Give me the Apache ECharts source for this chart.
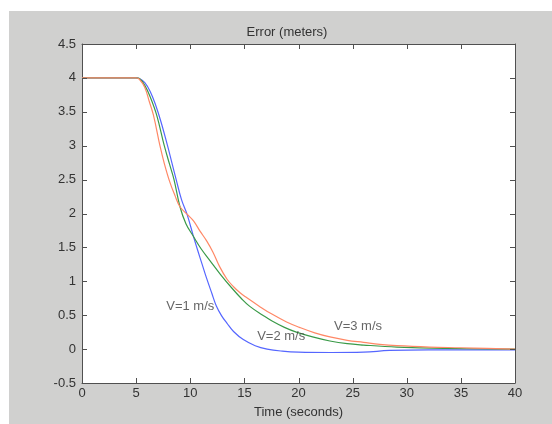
<!DOCTYPE html>
<html><head><meta charset="utf-8">
<script src="https://cdn.jsdelivr.net/npm/echarts@6/dist/echarts.min.js"></script>
<style>html,body{margin:0;padding:0;background:#fff}#c{width:552px;height:424px}</style>
</head><body><div id="c"></div>
<script>
var xTicks = [0,5,10,15,20,25,30,35,40];
var yTicks = [-0.5,0,0.5,1,1.5,2,2.5,3,3.5,4,4.5];
var v1 = [[0,4],[5,4],[5.3,3.99],[5.8,3.93],[6.3,3.8],[6.8,3.6],[7.3,3.35],[7.9,3.0],[8.3,2.75],[8.7,2.5],[9.2,2.2],[9.7,1.99],[10.3,1.66],[10.7,1.45],[11.1,1.25],[11.5,1.05],[12.0,0.82],[12.4,0.64],[12.9,0.49],[13.4,0.38],[14.0,0.26],[14.9,0.14],[16.0,0.05],[17.1,0.0],[18.5,-0.03],[20,-0.045],[23,-0.05],[26,-0.045],[28.4,-0.02],[32,-0.01],[40,-0.01]];
var v2 = [[0,4],[5,4],[5.3,3.99],[5.8,3.89],[6.3,3.72],[6.9,3.45],[7.6,3.0],[8.1,2.72],[8.5,2.5],[9.05,2.1],[9.6,1.85],[10.3,1.66],[11.0,1.48],[11.8,1.31],[12.8,1.1],[13.9,0.89],[14.7,0.75],[15.5,0.63],[16.7,0.5],[17.6,0.41],[18.7,0.32],[19.8,0.25],[21.3,0.18],[22.9,0.12],[24.5,0.08],[26,0.06],[29.1,0.03],[33.4,0.01],[40,0.0]];
var v3 = [[0,4],[5,4],[5.3,3.98],[5.8,3.86],[6.2,3.66],[6.6,3.45],[7.2,3.0],[7.6,2.74],[8.1,2.47],[8.6,2.26],[9.05,2.1],[9.7,1.99],[10.3,1.89],[10.9,1.74],[11.5,1.6],[12.1,1.43],[12.7,1.22],[13.4,1.03],[14.0,0.92],[14.6,0.83],[15.2,0.76],[16.4,0.63],[17.5,0.52],[18.9,0.40],[20.1,0.32],[21.5,0.24],[22.9,0.18],[24.5,0.13],[26,0.10],[27.5,0.07],[29.1,0.05],[32.1,0.03],[35,0.02],[37.4,0.01],[40,0.0]];
var labelTexts = ['V=1 m/s','V=2 m/s','V=3 m/s'];
var labelPos = [[10.0,0.63],[18.4,0.18],[25.5,0.34]];

var font = 'Liberation Sans, Arial, sans-serif';
var axisCol = '#505050';
var txtCol = '#333333';
var TL = 5;
var chart = echarts.init(document.getElementById('c'), null, {renderer:'canvas'});
function lineSeries(d, col){
  return {type:'line', data:d, showSymbol:false, smooth:0.4,
    lineStyle:{color:col, width:1.2}, itemStyle:{color:col}, z:3, animation:false};
}
var common = {min:0,max:40,interval:5,type:'value'};
var tickMarks = xTicks.map(function(v){return {kind:'x', v:v};}).concat(yTicks.map(function(v){return {kind:'y', v:v};}));
chart.setOption({
  animation:false,
  backgroundColor:'#ffffff',
  title:{text:'Error (meters)', left:282, top:21, textAlign:'center',
    textStyle:{fontFamily:font, fontSize:13, fontWeight:'normal', color:txtCol}},
  grid:{left:82, top:44, right:37, bottom:40, show:false},
  xAxis:[
    Object.assign({}, common, {position:'bottom', name:'Time (seconds)', nameLocation:'middle', nameGap:23,
      nameTextStyle:{fontFamily:font, fontSize:13, color:txtCol},
      axisLine:{show:true, onZero:false, lineStyle:{color:axisCol}}, axisTick:{show:false},
      axisLabel:{fontFamily:font, fontSize:13, color:txtCol, margin:4,
        formatter:function(v){return xTicks.indexOf(v)>=0? String(v):'';}},
      splitLine:{show:false}}),
    Object.assign({}, common, {position:'top',
      axisLine:{show:true, onZero:false, lineStyle:{color:axisCol}}, axisTick:{show:false},
      axisLabel:{show:false}, splitLine:{show:false}})
  ],
  yAxis:[
    {type:'value', min:-0.5, max:4.5, interval:0.5, position:'left',
      axisLine:{show:true, onZero:false, lineStyle:{color:axisCol}}, axisTick:{show:false},
      axisLabel:{fontFamily:font, fontSize:13, color:txtCol, margin:6}, splitLine:{show:false}},
    {type:'value', min:-0.5, max:4.5, interval:0.5, position:'right',
      axisLine:{show:true, onZero:false, lineStyle:{color:axisCol}}, axisTick:{show:false},
      axisLabel:{show:false}, splitLine:{show:false}}
  ],
  series:[
    lineSeries(v1,'#5566ff'),
    lineSeries(v2,'#3a9a48'),
    lineSeries(v3,'#ff8866'),
    {type:'scatter', symbolSize:0, z:5, silent:true,
      data: labelPos.map(function(p,i){return {value:p, name:labelTexts[i]};}),
      label:{show:true, position:'inside', formatter:'{b}', fontFamily:font, fontSize:13, color:'#404040'}}
  ]
});
// background panels and tick marks, positioned through the chart's own axes
var g = [
  {type:'rect', left:9, top:11, z:-100, silent:true, shape:{width:543, height:413}, style:{fill:'#d0d0cf'}},
  {type:'rect', left:82, top:44, z:-99, silent:true, shape:{width:433, height:340}, style:{fill:'#ffffff'}}
];
tickMarks.forEach(function(t){
  var a, b;
  if (t.kind === 'x') {
    a = chart.convertToPixel({xAxisIndex:0, yAxisIndex:0}, [t.v, -0.5]);
    b = chart.convertToPixel({xAxisIndex:0, yAxisIndex:0}, [t.v, 4.5]);
    var x = Math.round(a[0]) + 0.5;
    g.push({type:'line', silent:true, z:50, shape:{x1:x, y1:a[1], x2:x, y2:a[1]-TL}, style:{stroke:axisCol, lineWidth:1}});
    g.push({type:'line', silent:true, z:50, shape:{x1:x, y1:b[1], x2:x, y2:b[1]+TL}, style:{stroke:axisCol, lineWidth:1}});
  } else {
    a = chart.convertToPixel({xAxisIndex:0, yAxisIndex:0}, [0, t.v]);
    b = chart.convertToPixel({xAxisIndex:0, yAxisIndex:0}, [40, t.v]);
    var y = Math.round(a[1]) + 0.5;
    g.push({type:'line', silent:true, z:50, shape:{x1:a[0], y1:y, x2:a[0]+TL, y2:y}, style:{stroke:axisCol, lineWidth:1}});
    g.push({type:'line', silent:true, z:50, shape:{x1:b[0], y1:y, x2:b[0]-TL, y2:y}, style:{stroke:axisCol, lineWidth:1}});
  }
});
chart.setOption({graphic:g});
</script></body></html>
